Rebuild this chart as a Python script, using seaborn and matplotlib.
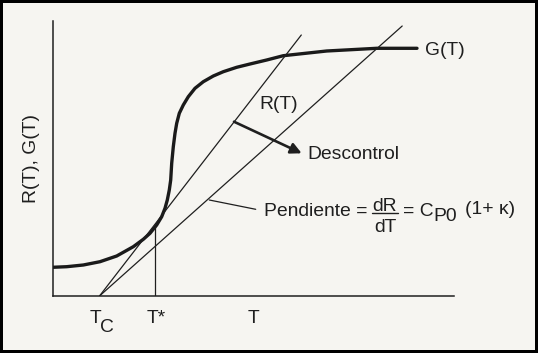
import matplotlib
matplotlib.use("Agg")
import matplotlib.pyplot as plt
import seaborn as sns
import pandas as pd

# ---- data (arbitrary units) ----
g_T = [0, 14.2, 30.8, 47.5, 64.2, 80.8, 90.8, 97.5, 104.2, 109.2, 112.5, 114.8,
       116.8, 118.2, 119.2, 120.8, 122.5, 124.2, 126.8, 130.8, 135.8, 142.5,
       150.8, 160.8, 170.8, 184.2, 197.5, 214.2, 230.8, 274.2, 324.2, 364.5]
g_val = [28.7, 29.3, 31.0, 34.3, 40.0, 49.3, 56.7, 62.7, 71.0, 79.3, 87.7, 96.0,
         106.0, 116.0, 132.7, 149.3, 162.7, 172.7, 182.7, 191.0, 199.3, 207.7,
         214.3, 220.0, 224.3, 228.7, 232.0, 236.0, 240.3, 245.0, 247.7, 247.7]
r_tangent_T = [47.0, 248.8]
r_tangent_val = [0.0, 261.0]
r_flat_T = [47.0, 349.7]
r_flat_val = [0.0, 270.0]
T_c = 47.0
T_star = 102.5
T_star_top = 70.0
tick_T = 201.5

df_g = pd.DataFrame({"T": g_T, "G": g_val})

sns.set_theme(style="white")
plt.rcParams["font.family"] = ["Liberation Sans", "DejaVu Sans"]

BG = "#f6f5f1"
INK = "#1f1f1f"
FS = 13.9

fig = plt.figure(figsize=(5.38, 3.53), dpi=100, facecolor=BG,
                 edgecolor="black", linewidth=4)
ax = fig.add_axes([52.5 / 538, 57 / 353, 401.5 / 538, 275.3 / 353])
ax.set_facecolor(BG)
ax.set_xlim(0, 401.5)
ax.set_ylim(0, 275.3)

sns.lineplot(data=df_g, x="T", y="G", ax=ax, color="#1a1a1a", linewidth=2.4,
             sort=False, estimator=None)
sns.lineplot(x=r_tangent_T, y=r_tangent_val, ax=ax, color=INK, linewidth=0.9,
             estimator=None)
sns.lineplot(x=r_flat_T, y=r_flat_val, ax=ax, color=INK, linewidth=0.9,
             estimator=None)
ax.plot([T_star, T_star], [0, T_star_top], color=INK, linewidth=0.9)

for s in ["top", "right"]:
    ax.spines[s].set_visible(False)
for s in ["left", "bottom"]:
    ax.spines[s].set_color(INK)
    ax.spines[s].set_linewidth(1.1)
ax.set_xticks([])
ax.set_yticks([])
ax.set_xlabel("")
ax.set_ylabel("R(T), G(T)", fontsize=FS, color=INK, labelpad=9)

tk = dict(fontsize=FS, color=INK, va="baseline", clip_on=False)
ax.text(43.5, -27.3, "T", ha="center", **tk)
ax.text(54.2, -35.7, "C", ha="center", **tk)
ax.text(104.0, -27.3, "T*", ha="center", **tk)
ax.text(tick_T, -27.3, "T", ha="center", **tk)

ax.text(373, 241, "G(T)", ha="left", **tk)
ax.text(206.8, 186.7, "R(T)", ha="left", **tk)
ax.annotate("", xy=(249.2, 142.7), xytext=(181.5, 174.3),
            arrowprops=dict(arrowstyle="-|>", color=INK, lw=1.9,
                            mutation_scale=16, shrinkA=0, shrinkB=0))
ax.text(254.8, 137, "Descontrol", ha="left", **tk)

ax.plot([156.8, 203.2], [96, 86.7], color=INK, linewidth=0.9)
ax.text(211, 80, "Pendiente =", ha="left", **tk)
ax.text(332.5, 85.3, "dR", ha="center", **tk)
ax.plot([319.5, 345.5], [82.7, 82.7], color=INK, linewidth=1.0, clip_on=False)
ax.text(332.5, 64.3, "dT", ha="center", **tk)
ax.text(350.5, 80, "= C", ha="left", **tk)
ax.text(380.5, 75.3, "P0", ha="left", **tk)
ax.text(412.5, 82, "(1+ \u03ba)", ha="left", **tk)

fig.savefig("out.png", dpi=100, facecolor=BG, edgecolor="black")
